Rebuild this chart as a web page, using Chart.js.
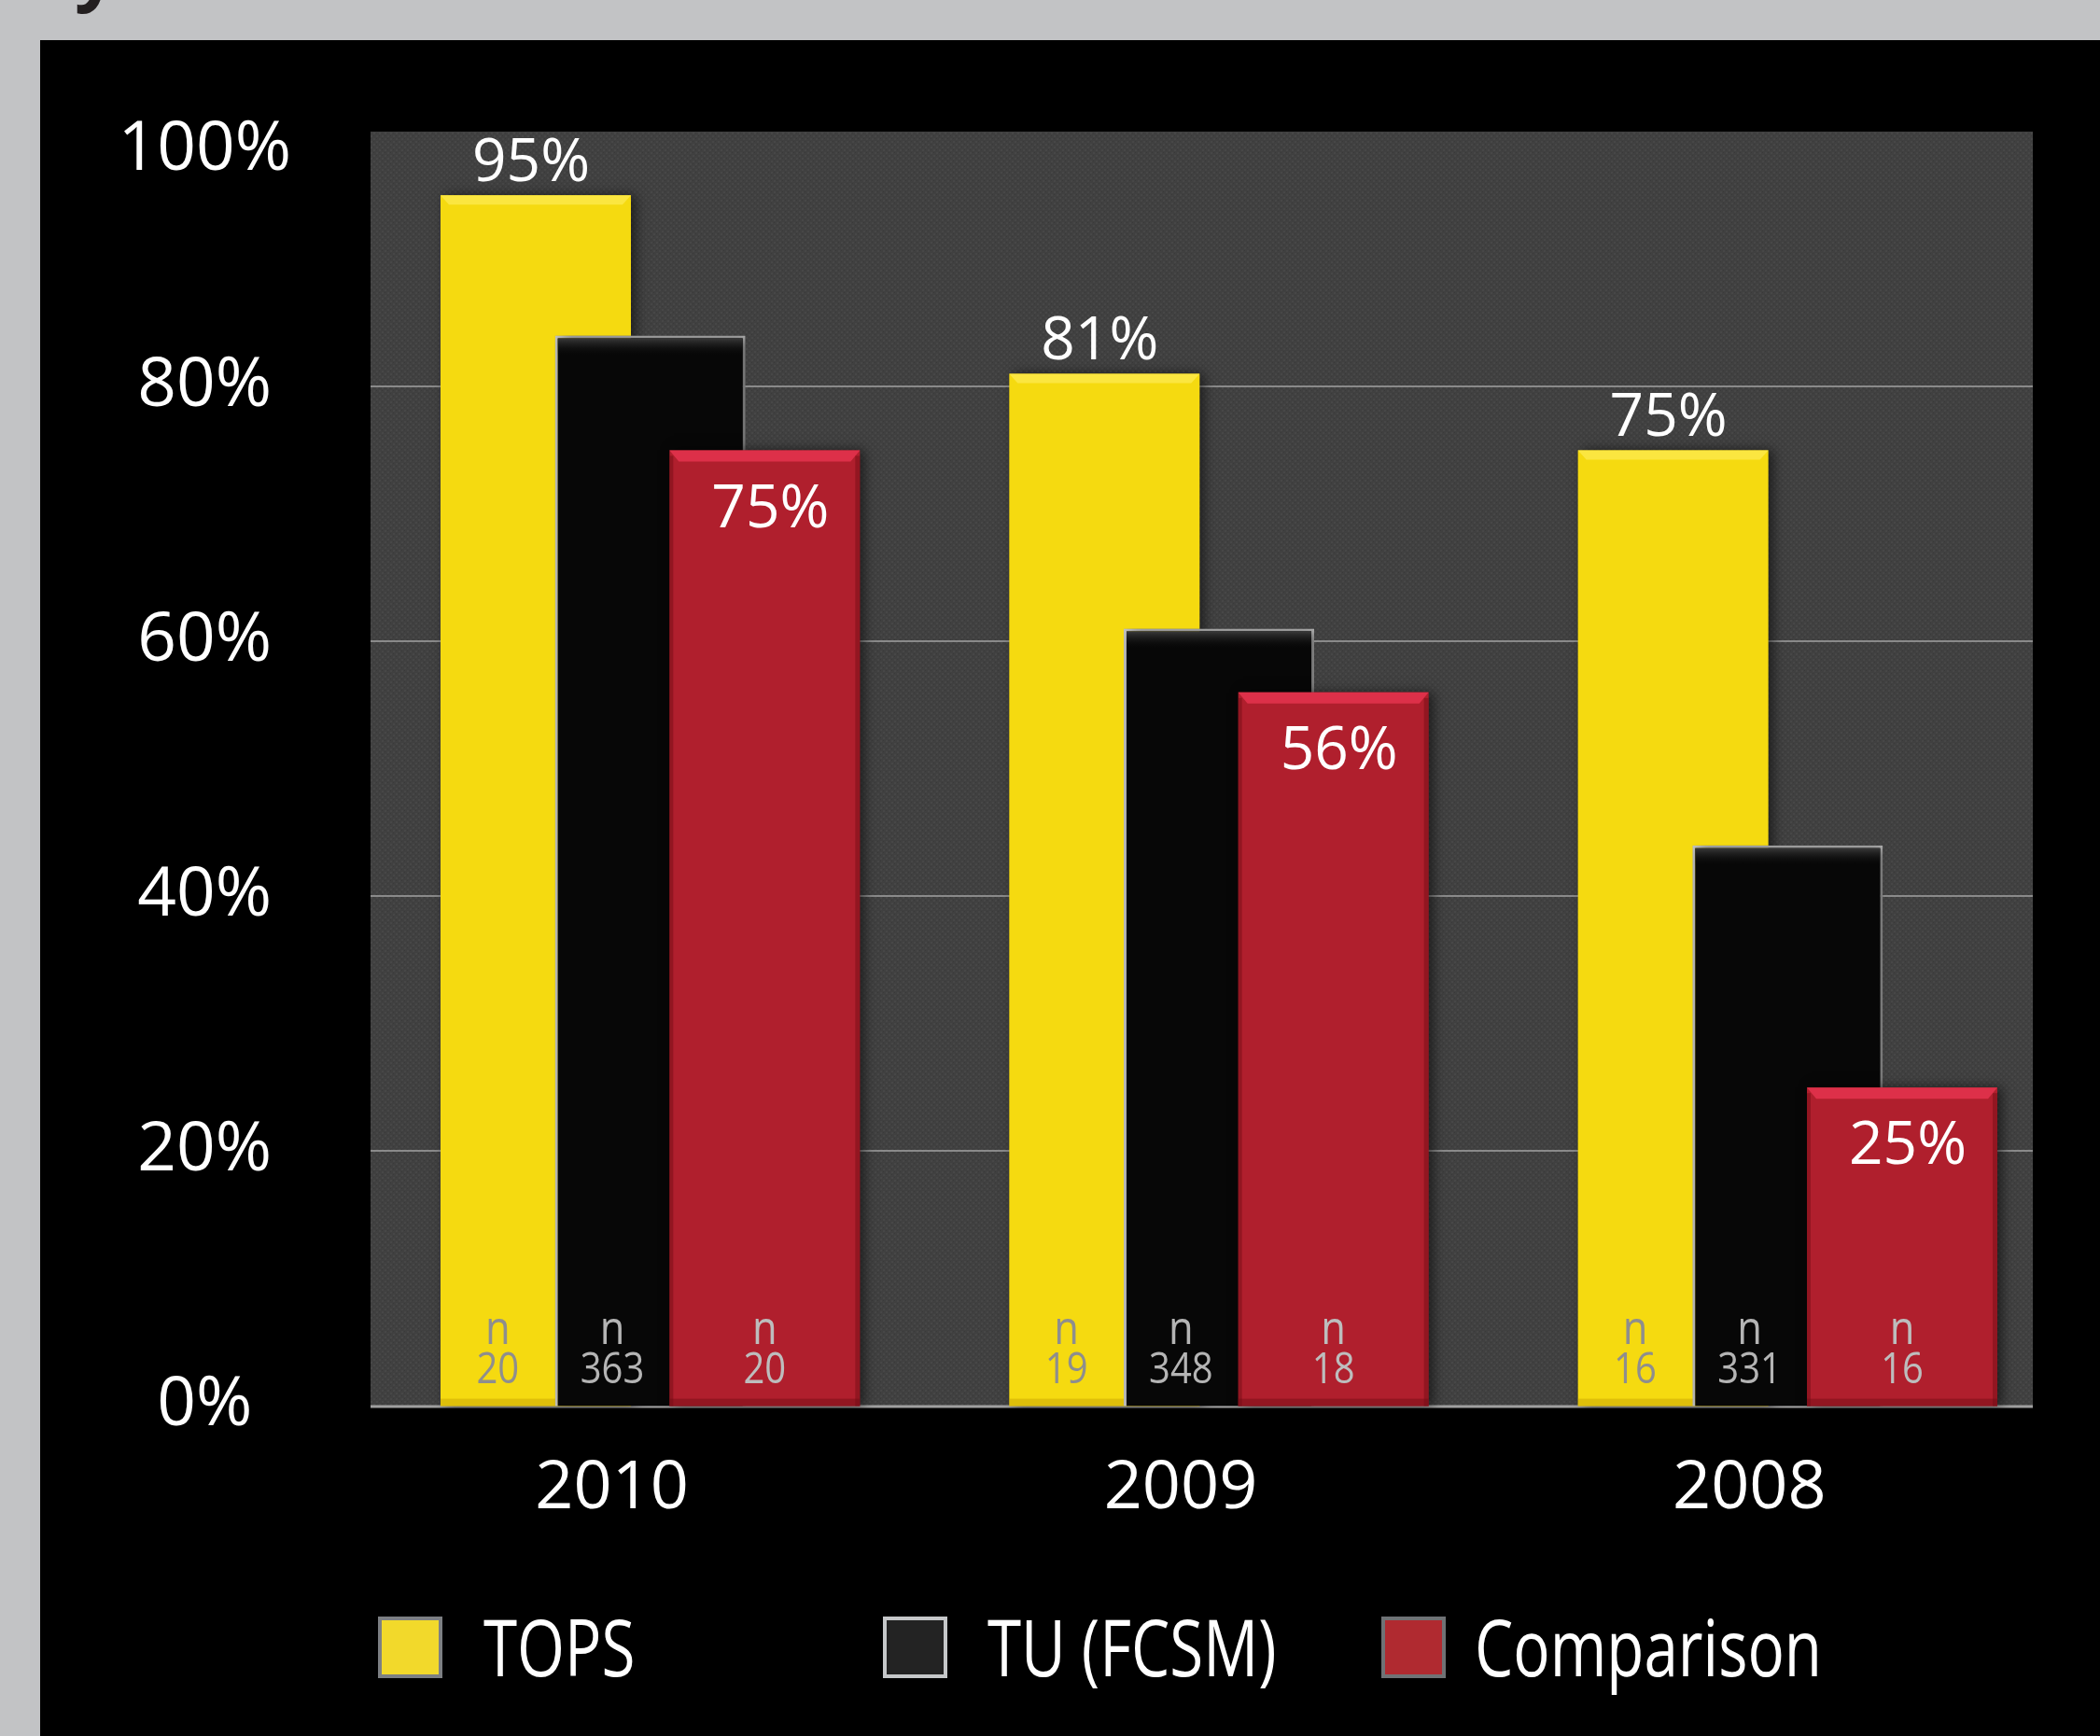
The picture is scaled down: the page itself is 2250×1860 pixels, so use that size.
<!DOCTYPE html>
<html>
<head>
<meta charset="utf-8">
<script src="https://cdn.jsdelivr.net/npm/chart.js@4.4.0/dist/chart.umd.min.js"></script>
<style>
  html, body { margin: 0; padding: 0; width: 2250px; height: 1860px; overflow: hidden; background: #c2c3c5; font-family: 'Open Sans', sans-serif; }
  #title-cut { position: absolute; left: 80px; top: 0; width: 60px; height: 43px; overflow: hidden; }
  #title-cut span { position: absolute; left: 0; top: -75px; font: bold 80px 'Open Sans', sans-serif; line-height: 1; color: #231f20; }
  #panel { position: absolute; left: 43px; top: 43px; width: 2207px; height: 1817px; background: #000; }
  #chart { position: absolute; left: 0; top: 0; }
  .legend-box { position: absolute; width: 61px; height: 58px; border: 4px solid #7c7f83; box-sizing: content-box; }
  .legend-text { position: absolute; color: #fff; font-size: 84px; line-height: 1; white-space: nowrap; transform: scaleX(0.78); transform-origin: left center; }
</style>
</head>
<body>
<div id="title-cut"><span>y</span></div>
<div id="panel">
  <canvas id="chart" width="2207" height="1817"></canvas>
  <div id="legend"></div>
</div>
<script>
// Data
const categories = ['2010', '2009', '2008'];
const seriesNames = ['TOPS', 'TU (FCSM)', 'Comparison'];
const topsValues = [95, 81, 75];
const tuValues = [84, 61, 44];
const comparisonValues = [75, 56, 25];
const topsN = [20, 19, 16];
const tuN = [363, 348, 331];
const comparisonN = [20, 18, 16];
const yTicks = [0, 20, 40, 60, 80, 100];

// Colours
const barColors = ['#f5da10', '#070707', '#b01f2d'];
const legendFills = ['#f2d92b', '#232323', '#b02a30'];
const legendBorders = ['#7c7f83', '#c5c7c9', '#6f7275'];
const nColors = ['#8e8e8e', '#b4b4b4', '#bdbdbd'];

// Textured grey for the plot background
function makePattern(ctx) {
  const c = document.createElement('canvas');
  c.width = 6; c.height = 6;
  const p = c.getContext('2d');
  p.fillStyle = '#404040';
  p.fillRect(0, 0, 6, 6);
  p.fillStyle = '#474747';
  p.fillRect(0, 0, 2, 2);
  p.fillRect(3, 3, 2, 2);
  p.fillStyle = '#3a3a3a';
  p.fillRect(3, 0, 1, 1);
  p.fillRect(0, 3, 1, 1);
  return ctx.createPattern(c, 'repeat');
}

function bevel(ctx, bar, i) {
  const left = bar.x - bar.width / 2;
  const right = bar.x + bar.width / 2;
  const top = bar.y;
  const bottom = bar.base;
  ctx.save();
  if (i === 0) {
    ctx.fillStyle = '#fbe640';
    ctx.beginPath();
    ctx.moveTo(left, top); ctx.lineTo(right, top);
    ctx.lineTo(right - 9, top + 10); ctx.lineTo(left + 9, top + 10);
    ctx.closePath(); ctx.fill();
    ctx.fillStyle = 'rgba(180,140,0,0.35)';
    ctx.fillRect(left, bottom - 8, bar.width, 8);
  } else if (i === 1) {
    const g = ctx.createLinearGradient(0, top, 0, top + 22);
    g.addColorStop(0, '#4a4a4a');
    g.addColorStop(1, 'rgba(7,7,7,0)');
    ctx.fillStyle = g;
    ctx.fillRect(left + 3, top + 3, bar.width - 6, 22);
  } else {
    ctx.fillStyle = '#dd3049';
    ctx.beginPath();
    ctx.moveTo(left, top); ctx.lineTo(right, top);
    ctx.lineTo(right - 10, top + 12); ctx.lineTo(left + 10, top + 12);
    ctx.closePath(); ctx.fill();
    ctx.fillStyle = 'rgba(110,10,20,0.45)';
    ctx.fillRect(right - 5, top + 6, 5, bottom - top - 6);
    ctx.fillRect(left, top + 6, 4, bottom - top - 6);
    ctx.fillRect(left, bottom - 8, bar.width, 8);
  }
  ctx.restore();
}

const barLook = {
  id: 'barLook',
  beforeDatasetsDraw(chart) {
    const { ctx, chartArea, scales: { y } } = chart;
    const plotLeft = chartArea.left + 5;
    const plotRight = chartArea.right - 42;
    ctx.save();
    ctx.fillStyle = makePattern(ctx);
    ctx.fillRect(plotLeft, chartArea.top, plotRight - plotLeft, chartArea.bottom - chartArea.top);
    y.ticks.forEach(t => {
      if (t.value === 100) return;
      const py = Math.round(y.getPixelForValue(t.value));
      ctx.strokeStyle = t.value === 0 ? '#a0a0a0' : '#8a8a8a';
      ctx.lineWidth = t.value === 0 ? 3 : 2;
      ctx.beginPath();
      ctx.moveTo(plotLeft, py);
      ctx.lineTo(plotRight, py);
      ctx.stroke();
    });
    ctx.restore();

    // draw series left to right so the later one sits on top
    chart.data.datasets.forEach((ds, i) => {
      const meta = chart.getDatasetMeta(i);
      ctx.save();
      ctx.shadowColor = 'rgba(0,0,0,0.55)';
      ctx.shadowBlur = 12;
      ctx.shadowOffsetX = 5;
      meta.controller.draw();
      ctx.restore();
      meta.data.forEach(bar => bevel(ctx, bar, i));
    });
    return false;
  },
  afterDraw(chart) {
    const { ctx } = chart;
    ctx.save();
    chart.data.datasets.forEach((ds, i) => {
      const meta = chart.getDatasetMeta(i);
      const nextMeta = i < chart.data.datasets.length - 1 ? chart.getDatasetMeta(i + 1) : null;
      meta.data.forEach((bar, j) => {
        // sample size, centred on the visible part of the bar
        let cx = bar.x;
        if (nextMeta) {
          const nb = nextMeta.data[j];
          cx = ((bar.x - bar.width / 2) + (nb.x - nb.width / 2)) / 2;
        }
        ctx.fillStyle = nColors[i];
        ctx.textAlign = 'center';
        ctx.textBaseline = 'alphabetic';
        ctx.save();
        ctx.translate(cx, bar.base - 67);
        ctx.scale(0.87, 1);
        ctx.font = '50px "Open Sans"';
        ctx.fillText('n', 0, 0);
        ctx.restore();
        ctx.save();
        ctx.translate(cx, bar.base - 25);
        ctx.scale(0.87, 1);
        ctx.font = '46px "Open Sans"';
        ctx.fillText(String(ds.nValues[j]), 0, 0);
        ctx.restore();

        // value labels
        ctx.fillStyle = '#ffffff';
        ctx.font = '64px "Open Sans"';
        ctx.textBaseline = 'middle';
        if (ds.valueLabel === 'above') {
          ctx.fillText(ds.data[j] + '%', bar.x - 5, bar.y - 34);
        } else if (ds.valueLabel === 'inside') {
          ctx.fillText(ds.data[j] + '%', bar.x + 6, bar.y + 64);
        }
      });
    });
    ctx.restore();
  }
};

const ctx = document.getElementById('chart').getContext('2d');
const chart = new Chart(ctx, {
  type: 'bar',
  data: {
    labels: categories,
    datasets: [
      { label: seriesNames[0], data: topsValues, nValues: topsN, valueLabel: 'above',
        backgroundColor: barColors[0], borderWidth: 0 },
      { label: seriesNames[1], data: tuValues, nValues: tuN, valueLabel: 'none',
        backgroundColor: barColors[1], borderColor: '#c4c4c4', borderWidth: 3, borderSkipped: 'bottom' },
      { label: seriesNames[2], data: comparisonValues, nValues: comparisonN, valueLabel: 'inside',
        backgroundColor: barColors[2], borderWidth: 0 }
    ]
  },
  options: {
    responsive: false,
    animation: false,
    categoryPercentage: 0.604,
    barPercentage: 1.663,
    layout: { padding: { top: 98, right: 30, bottom: 175, left: 0 } },
    plugins: { legend: { display: false }, tooltip: { enabled: false } },
    scales: {
      x: {
        grid: { display: false, drawTicks: false },
        border: { display: false },
        ticks: { color: '#ffffff', font: { family: 'Open Sans', size: 72 }, padding: 46, labelOffset: -41 }
      },
      y: {
        min: 0,
        max: 100,
        afterBuildTicks: s => { s.ticks = yTicks.map(v => ({ value: v })); },
        afterFit: s => {
          s.width = 349;
          // the wide horizontal tick padding should not push the plot down
          s.paddingTop = 0;
          s.paddingBottom = 0;
        },
        grid: { display: false, drawTicks: false },
        border: { display: false },
        ticks: {
          color: '#ffffff',
          // the top label sits a little below its line in the original
          font: c => ({ family: 'Open Sans', size: 73, lineHeight: c.tick && c.tick.value === 100 ? 0.55 : 1.2 }),
          padding: 80,
          crossAlign: 'center',
          callback: v => v === 100 ? ['', v + '%'] : v + '%'
        }
      }
    }
  },
  plugins: [barLook]
});

// Legend in fixed columns, as in the original
const legend = document.getElementById('legend');
const legendLefts = [362, 903, 1437];
const legendTextLefts = [475, 1015, 1537];
seriesNames.forEach((name, i) => {
  const box = document.createElement('div');
  box.className = 'legend-box';
  box.style.left = legendLefts[i] + 'px';
  box.style.top = '1689px';
  box.style.background = legendFills[i];
  box.style.borderColor = legendBorders[i];
  legend.appendChild(box);
  const txt = document.createElement('div');
  txt.className = 'legend-text';
  txt.textContent = name;
  txt.style.left = legendTextLefts[i] + 'px';
  txt.style.top = '1679px';
  legend.appendChild(txt);
});
</script>
</body>
</html>
